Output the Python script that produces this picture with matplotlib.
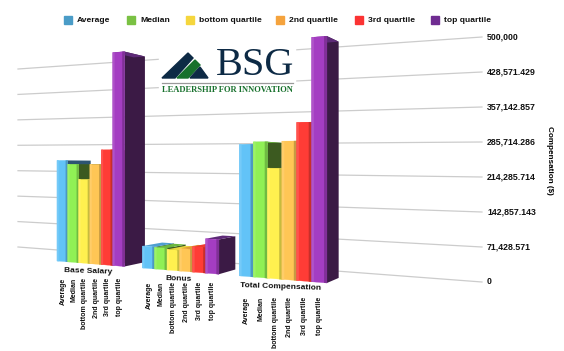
"""Compensation by pay component, drawn as a pseudo-3D column chart."""
import matplotlib

matplotlib.use("Agg")
import matplotlib.pyplot as plt
import numpy as np
from matplotlib.patches import Polygon, Rectangle

plt.rcParams["font.family"] = ["Liberation Sans", "DejaVu Sans"]

groups = ["Base Salary", "Bonus", "Total Compensation"]
series = ["Average", "Median", "bottom quartile", "2nd quartile", "3rd quartile", "top quartile"]
base_salary = [245000, 236000, 200000, 236000, 270000, 497000]
bonus = [50000, 49000, 46000, 50000, 56000, 75000]
total_comp = [280000, 285000, 230000, 286000, 324000, 496000]
tick_values = [0, 71428.571, 142857.143, 214285.714, 285714.286, 357142.857, 428571.429, 500000]
tick_labels = ["0", "71,428.571", "142,857.143", "214,285.714", "285,714.286",
               "357,142.857", "428,571.429", "500,000"]

swatch = ["#4a9cc7", "#7ac143", "#f5d63d", "#f5a33d", "#fb3333", "#6f2c91"]
front = ["#62c3f7", "#90f055", "#fff04f", "#ffc655", "#ff3c36", "#a43dc2"]
side = ["#2d5472", "#3c5a20", "#8d8430", "#8f6c2c", "#7d1f1b", "#3b1a45"]
top = ["#4f9fd0", "#6bb83e", "#e8d840", "#e09a35", "#ee3a30", "#5e2a78"]

VP = np.array([600.0, 165.0])  # vanishing point of the side faces
DEPTH = 0.043
GROUP_START = [0.0, 7.5, 15.0]
LABEL_TOP = [278, 282, 297]


def xpos(u):
    return 57 + 10.71 * u / (1 - 0.00794 * u)


def wall_y(value, x):
    y0 = 247 + (x - 18) / 464 * 35
    y1 = 69 - (x - 18) / 464 * 32
    return y0 + (y1 - y0) * value / 500000


def front_pt(u, value):
    x = xpos(u)
    base = 261 + (x - 57) * 0.0815
    height = 1.118 * (178 + (x - 18) / 464 * 67)
    return np.array([x, base - height * value / 500000])


def back(p):
    return p + DEPTH * (VP - p)


def mix(c, other, t):
    a = np.array(matplotlib.colors.to_rgb(c))
    b = np.array(matplotlib.colors.to_rgb(other))
    return tuple(a + (b - a) * t)


def face(ax, u0, u1, v, color, z):
    pts = [front_pt(u0, v), front_pt(u1, v), front_pt(u1, 0), front_pt(u0, 0)]
    ax.add_patch(Polygon(pts, facecolor=color, edgecolor=color, lw=0.2, zorder=z))


fig = plt.figure(figsize=(5.64, 3.51), dpi=100)
ax = fig.add_axes([0, 0, 1, 1])
ax.set_xlim(0, 564)
ax.set_ylim(351, 0)
ax.axis("off")

# back wall grid and value labels
for v, lab in zip(tick_values, tick_labels):
    ax.plot([18, 482], [wall_y(v, 18), wall_y(v, 482)], color="#cccccc", lw=0.9, zorder=1)
    ax.text(487, wall_y(v, 482), lab, fontsize=6.3, fontweight="bold", va="center", ha="left", color="#111111")
ax.text(549, 160, "Compensation ($)", rotation=270, fontsize=5.9, fontweight="bold", va="center", ha="center")

# legend
legend_x = [63.5, 126.5, 185.5, 275.5, 355, 431]
for x, name, c in zip(legend_x, series, swatch):
    ax.add_patch(Rectangle((x, 16), 8, 8, color=c, zorder=3))
    ax.text(x + 13.5, 20.5, name, fontsize=6.1, fontweight="bold", va="center", ha="left", color="#111111")

# logo sits on a white card over the grid
ax.add_patch(Rectangle((159, 48), 136, 52, color="white", zorder=2))
ax.add_patch(Polygon([(162, 78), (188, 53), (193, 58), (175, 78)], color="#0d2a45", zorder=3))
ax.add_patch(Polygon([(177, 78), (195, 60), (200, 65), (188, 78)], color="#17702c", zorder=3))
ax.add_patch(Polygon([(190, 78), (200, 67), (208, 78)], color="#0d2a45", zorder=3))
ax.text(216, 65.5, "BSG", family="Liberation Serif", fontsize=29, color="#0d2a45", va="center", ha="left", zorder=3)
ax.plot([162, 293], [83, 83], color="#9a9a9a", lw=0.9, zorder=3)
ax.text(162, 90, "LEADERSHIP FOR INNOVATION", family="Liberation Serif", fontsize=6.1, fontweight="bold",
        color="#17702c", va="center", ha="left", zorder=3)

# columns, painted left to right so each one covers its neighbour's side face
z = 4
for g, vals in enumerate([base_salary, bonus, total_comp]):
    start = GROUP_START[g]
    for i, v in enumerate(vals):
        u0, u1 = start + i, start + i + 1
        tl, tr = front_pt(u0, v), front_pt(u1, v)
        br = front_pt(u1, 0)
        ax.add_patch(Polygon([tr, back(tr), back(br), br], color=side[i], zorder=z, lw=0))
        ax.add_patch(Polygon([tl, tr, back(tr), back(tl)], color=top[i], zorder=z, lw=0))
        # front face with a lighter left edge and a darker right edge
        face(ax, u0, u1, v, front[i], z)
        face(ax, u0, u0 + 0.15, v, mix(front[i], "white", 0.12), z)
        face(ax, u1 - 0.18, u1, v, mix(front[i], "black", 0.22), z)
        z += 1
        # category label under the column
        ax.text(xpos(u0 + 0.5) + 0.5, LABEL_TOP[g], series[i], rotation=90, fontsize=5.0, fontweight="bold",
                va="top", ha="center", color="#111111", zorder=z)
    mid = start + 3
    ax.text(xpos(mid) - 1.5, front_pt(mid, 0)[1] + 7.5, groups[g], fontsize=6.0, fontweight="bold", rotation=-2,
            va="center", ha="center", color="#111111", zorder=z)

fig.savefig("out.png", dpi=100)
